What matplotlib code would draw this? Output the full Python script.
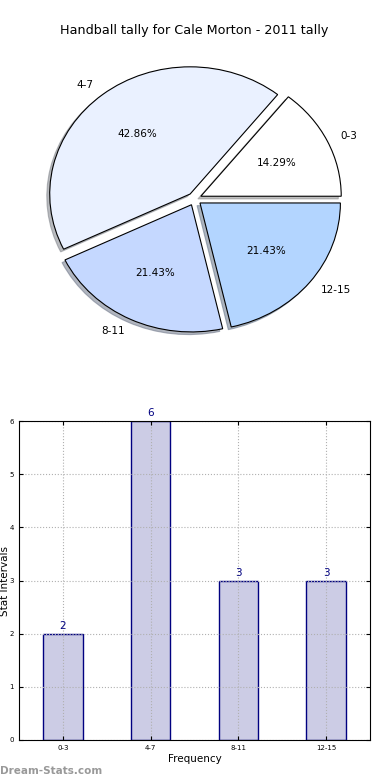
import matplotlib.pyplot as plt

# chart data
intervals = ["0-3", "4-7", "8-11", "12-15"]
counts = [2, 6, 3, 3]
pie_colors = ["#FFFFFF", "#EAF1FF", "#C5D8FF", "#B3D5FF"]

fig = plt.figure(figsize=(3.9, 7.8), dpi=100)

# Pie
ax1 = fig.add_axes([19 / 390, 1 - 358 / 780, 351 / 390, 318 / 780])
wedges, texts, autotexts = ax1.pie(
    counts, labels=intervals, colors=pie_colors, autopct="%1.2f%%",
    explode=[0.05] * 4, shadow={"ox": -0.015, "oy": -0.015, "shade": 0.5},
    startangle=0,
    wedgeprops={"edgecolor": "black", "linewidth": 0.8},
    textprops={"fontsize": 7.5})
ax1.set_aspect("auto")
ax1.set_xlim(-1.25, 1.25)
ax1.set_ylim(-1.25, 1.25)
ax1.set_title("Handball tally for Cale Morton - 2011 tally", fontsize=9.2, pad=4)

# Bars
ax2 = fig.add_axes([19 / 390, 40 / 780, 351 / 390, 319 / 780])
x = range(len(intervals))
bars = ax2.bar(x, counts, width=0.45, color="#CCCCE5", edgecolor="#000080", linewidth=1)
for xi, c in zip(x, counts):
    ax2.text(xi, c + 0.05, str(c), ha="center", va="bottom", color="#000080", fontsize=7.5)
ax2.set_xlim(-0.5, 3.5)
ax2.set_ylim(0, 6)
ax2.set_xticks(list(x))
ax2.set_xticklabels(intervals, fontsize=5)
ax2.tick_params(axis="y", labelsize=5)
ax2.tick_params(direction="in", top=True, right=True, length=3)
ax2.grid(True, linestyle=":", color="#b0b0b0", linewidth=0.8)
ax2.set_axisbelow(False)
for s in ax2.spines.values():
    s.set_zorder(4)
ax2.set_xlabel("Frequency", fontsize=7.5, labelpad=2)
ax2.set_ylabel("Stat Intervals", fontsize=7.5)
ax2.yaxis.set_label_coords(-0.025, 0.5)

fig.text(0.0, 9 / 780, "Dream-Stats.com", fontsize=7.5, color="#999999",
         fontweight="bold", ha="left", va="center")

fig.savefig("out.png", dpi=100)
